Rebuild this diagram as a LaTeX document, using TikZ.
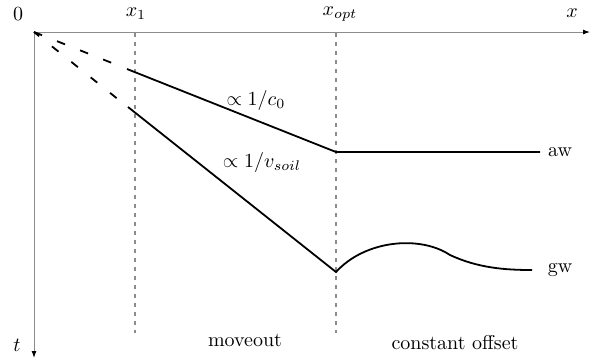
\documentclass[tikz,border=0pt]{standalone}
\usetikzlibrary{arrows.meta}
\begin{document}
\begin{tikzpicture}[x=0.5pt,y=-0.5pt,
  axis/.style={draw=black!45,line width=0.5pt,-{Latex[black,length=3.5pt,width=2.5pt]}},
  guide/.style={draw=black!45,line width=0.6pt,dash pattern=on 2pt off 2.5pt},
  curve/.style={draw=black,line width=0.9pt},
  dcurve/.style={draw=black,line width=0.9pt,dash pattern=on 4.3pt off 8.1pt},
  lab/.style={inner sep=0pt,font=\fontsize{10}{12}\selectfont}]
\useasboundingbox (0,0) rectangle (592,361);
\coordinate (O) at (34,32);
\coordinate (Xend) at (590,32);
\coordinate (Tend) at (34,358);
\draw[axis] (O) -- (Xend);
\draw[axis] (O) -- (Tend);
% guides
\coordinate (G1a) at (135,33); \coordinate (G1b) at (135,333);
\coordinate (G2a) at (336,33); \coordinate (G2b) at (336,333);
\draw[guide] (G1a) -- (G1b);
\draw[guide] (G2a) -- (G2b);
% aw
\coordinate (Ae) at (112,63);
\coordinate (A1) at (127,69);
\coordinate (A2) at (336,152);
\coordinate (A3) at (540,152);
\draw[dcurve] (O) -- (Ae);
\draw[curve] (A1) -- (A2) -- (A3);
% gw
\coordinate (Be) at (117,98.4);
\coordinate (B1) at (128,107);
\coordinate (B2) at (336,272);
\coordinate (B3) at (450,255);
\coordinate (B4) at (532,270);
\draw[dcurve,dash pattern=on 4.2pt off 8.2pt,dash phase=0.9pt] (O) -- (Be);
\draw[curve] (B1) -- (B2) .. controls (365,240) and (420,235) .. (B3) .. controls (478,268) and (505,270) .. (B4);
% labels
\node[lab] (l0) at (18,14) {$0$};
\node[lab] (lx1) at (136,14) {$x_1$};
\node[lab] (lxo) at (340,14) {$x_{opt}$};
\node[lab] (lx) at (572,13) {$x$};
\node[lab] (lt) at (17,345) {$t$};
\node[lab] (lc0) at (256,100) {$\propto 1/c_0$};
\node[lab] (lv) at (262,162) {$\propto 1/v_{soil}$};
\node[lab] (law) at (560,152) {aw};
\node[lab] (lgw) at (560,270) {gw};
\node[lab] (lmo) at (245,340) {moveout};
\node[lab] (lco) at (455,343) {constant offset};
\end{tikzpicture}
\end{document}
